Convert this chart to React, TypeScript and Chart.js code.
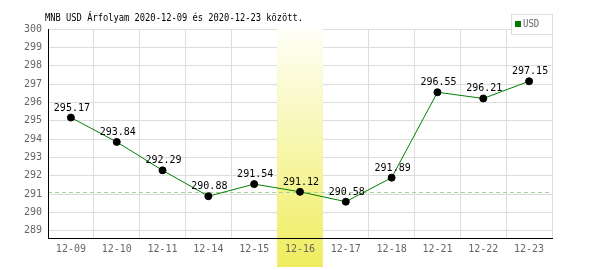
import React, { useEffect, useRef } from "react";
import { Chart, registerables } from "chart.js";

Chart.register(...registerables);

const categories = ["12-09", "12-10", "12-11", "12-14", "12-15", "12-16", "12-17", "12-18", "12-21", "12-22", "12-23"];
const usdValues = [295.17, 293.84, 292.29, 290.88, 291.54, 291.12, 290.58, 291.89, 296.55, 296.21, 297.15];
const yTickValues = [289, 290, 291, 292, 293, 294, 295, 296, 297, 298, 299, 300];
const highlightIndex = 5;
const referenceValue = 291.12;
const titleText = "MNB USD Árfolyam 2020-12-09 és 2020-12-23 között.";
const legendLabel = "USD";
const yMin = 288.6;
const yMax = 300;

const MONO = "'DejaVu Sans Mono', 'Liberation Mono', monospace";

export default function App() {
  const ref = useRef<HTMLCanvasElement>(null);

  useEffect(() => {
    document.body.style.margin = "0";
    const canvas = ref.current!;
    const decor = {
      id: "decor",
      beforeDatasetsDraw(chart: any) {
        const { ctx, chartArea, scales } = chart;
        const x = scales.x;
        const y = scales.y;
        const half = (x.getPixelForValue(1) - x.getPixelForValue(0)) / 2;
        const cx = x.getPixelForValue(highlightIndex);
        const left = cx - half;
        const w = half * 2;
        const top = chartArea.top;
        const bottom = 267;
        ctx.save();
        const g = ctx.createLinearGradient(0, top, 0, bottom);
        g.addColorStop(0, "rgb(255,255,248)");
        g.addColorStop(1, "rgb(239,237,94)");
        ctx.fillStyle = g;
        ctx.fillRect(left, top, w, bottom - top);
        const ry = Math.round(y.getPixelForValue(referenceValue)) + 0.5;
        ctx.strokeStyle = "#a8cfa0";
        ctx.lineWidth = 1;
        ctx.setLineDash([4, 3]);
        ctx.beginPath();
        ctx.moveTo(chartArea.left, ry);
        ctx.lineTo(chartArea.right, ry);
        ctx.stroke();
        ctx.restore();
      },
      afterDatasetsDraw(chart: any) {
        const { ctx } = chart;
        const meta = chart.getDatasetMeta(0);
        ctx.save();
        ctx.font = "10px " + MONO;
        ctx.fillStyle = "#000";
        ctx.textAlign = "center";
        ctx.textBaseline = "alphabetic";
        meta.data.forEach((pt: any, i: number) => {
          ctx.fillText(usdValues[i].toFixed(2), pt.x + 1, pt.y - 7);
        });
        ctx.restore();
      },
      afterDraw(chart: any) {
        const { ctx } = chart;
        ctx.save();
        ctx.font = "10px " + MONO;
        ctx.fillStyle = "#000";
        ctx.textAlign = "left";
        ctx.textBaseline = "middle";
        ctx.translate(45, 18);
        ctx.scale(0.875, 1);
        ctx.fillText(titleText, 0, 0);
        ctx.setTransform(1, 0, 0, 1, 0, 0);
        ctx.fillStyle = "#fff";
        ctx.fillRect(511, 14, 41, 20);
        ctx.strokeStyle = "#ddd";
        ctx.lineWidth = 1;
        ctx.strokeRect(511.5, 14.5, 41, 20);
        ctx.fillStyle = "#007a00";
        ctx.fillRect(515, 21, 6, 6);
        ctx.fillStyle = "#666";
        ctx.font = "10px " + MONO;
        ctx.textBaseline = "middle";
        ctx.translate(523, 24.5);
        ctx.scale(0.9, 1);
        ctx.fillText(legendLabel, 0, 0);
        ctx.restore();
      },
    };

    const chart = new Chart(canvas, {
      type: "line",
      data: {
        labels: categories,
        datasets: [
          {
            label: legendLabel,
            data: usdValues,
            borderColor: "#008000",
            borderWidth: 1,
            pointBackgroundColor: "#000",
            pointBorderColor: "#000",
            pointRadius: 3.5,
            pointBorderWidth: 1,
            tension: 0,
            fill: false,
          },
        ],
      },
      options: {
        responsive: false,
        animation: false,
        events: [],
        layout: { padding: { top: 29, right: 48, left: 0, bottom: 0 } },
        plugins: {
          legend: { display: false },
          title: { display: false },
          tooltip: { enabled: false },
        },
        scales: {
          x: {
            type: "category",
            offset: true,
            grid: { offset: true, color: "#ddd", drawTicks: false, lineWidth: 1 },
            border: { color: "#000", width: 1, z: 1 },
            ticks: { color: "#666", font: { family: MONO, size: 10 }, padding: 5, z: 1, maxRotation: 0, autoSkip: false },
            afterFit(scale: any) {
              scale.height = 32;
            },
          },
          y: {
            min: yMin,
            max: yMax,
            grid: { color: "#ddd", drawTicks: false, lineWidth: 1 },
            border: { color: "#000", width: 1, z: 1 },
            ticks: { stepSize: 1, color: "#666", font: { family: MONO, size: 10 }, padding: 6 },
            afterBuildTicks(scale: any) {
              scale.ticks = yTickValues.map((v) => ({ value: v }));
            },
            afterFit(scale: any) {
              scale.width = 48;
            },
          },
        },
      },
      plugins: [decor],
    });
    return () => chart.destroy();
  }, []);

  return (
    <div style={{ width: 600, height: 270 }}>
      <canvas ref={ref} width={600} height={270} />
    </div>
  );
}
